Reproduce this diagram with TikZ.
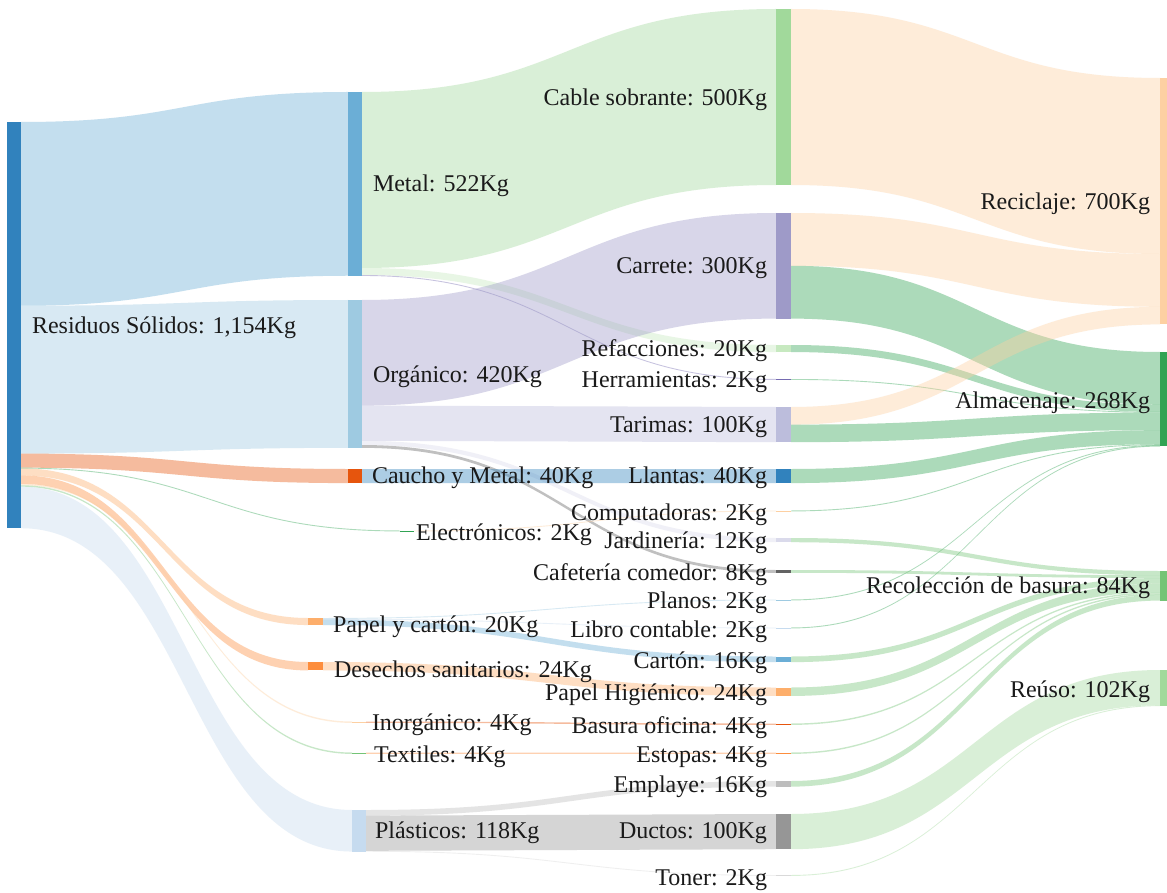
\documentclass[tikz,border=0pt]{standalone}
\usepackage{fontspec}
\setmainfont{Liberation Serif}
\usetikzlibrary{calc}
\pgfdeclarelayer{back}
\pgfdeclarelayer{flows}
\pgfsetlayers{back,flows,main}
\definecolor{cA}{HTML}{3182BD}
\definecolor{cB}{HTML}{6BAED6}
\definecolor{cC}{HTML}{9ECAE1}
\definecolor{cD}{HTML}{C6DBEF}
\definecolor{cE}{HTML}{E6550D}
\definecolor{cF}{HTML}{FD8D3C}
\definecolor{cG}{HTML}{FDAE6B}
\definecolor{cH}{HTML}{FDD0A2}
\definecolor{cI}{HTML}{31A354}
\definecolor{cJ}{HTML}{74C476}
\definecolor{cK}{HTML}{A1D99B}
\definecolor{cL}{HTML}{C7E9C0}
\definecolor{cM}{HTML}{756BB1}
\definecolor{cN}{HTML}{9E9AC8}
\definecolor{cO}{HTML}{BCBDDC}
\definecolor{cP}{HTML}{DADAEB}
\definecolor{cQ}{HTML}{636363}
\definecolor{cR}{HTML}{969696}
\definecolor{cS}{HTML}{BDBDBD}
\definecolor{cT}{HTML}{D9D9D9}
\definecolor{txt}{HTML}{1A1A1A}
\tikzset{
  sbar/.style={draw=none, inner sep=0pt, outer sep=0pt, anchor=north west},
  lab/.style={inner sep=0pt, outer sep=0pt, text=txt, font=\fontsize{24}{28}\selectfont},
  labR/.style={lab, anchor=base west},
  labL/.style={lab, anchor=base east},
  band/.style={fill opacity=0.4}
}
% node: name, x, y(top), width, kg, colour
\newcommand\snode[6]{%
  \pgfmathsetmacro\snodeH{max(#5*0.352,0.7)}%
  \node[sbar, fill=#6, minimum width=#4pt, minimum height=\snodeH pt] (#1) at (#2,#3) {};}
% flow: source, source offset (kg), target, target offset (kg), kg, colour
\newcommand\sflow[6]{%
  \pgfmathsetmacro\flowSA{#2*0.352}%
  \pgfmathsetmacro\flowTA{#4*0.352}%
  \pgfmathsetmacro\flowW{max(#5*0.352,0.9)}%
  \pgfmathsetmacro\flowSB{\flowSA+\flowW}%
  \pgfmathsetmacro\flowTB{\flowTA+\flowW}%
  \begin{pgfonlayer}{flows}
  \path ([yshift=-\flowSA pt]#1.north east) coordinate (fA)
        ([yshift=-\flowSB pt]#1.north east) coordinate (fB)
        ([yshift=-\flowTA pt]#3.north west) coordinate (gA)
        ([yshift=-\flowTB pt]#3.north west) coordinate (gB);
  \fill[band, fill=#6] let \p1=(fA), \p2=(gA), \p3=(gB), \p4=(fB) in
    (\p1) .. controls ({(\x1+\x2)/2},\y1) and ({(\x1+\x2)/2},\y2) .. (\p2)
    -- (\p3) .. controls ({(\x1+\x2)/2},\y3) and ({(\x1+\x2)/2},\y4) .. (\p4) -- cycle;
  \end{pgfonlayer}}
\begin{document}
\begin{tikzpicture}[x=1pt, y=-1pt]
\begin{pgfonlayer}{back}
\fill[white] (0,0) rectangle (1167,893);
\end{pgfonlayer}
\useasboundingbox (0,0) rectangle (1167,893);
% column 0
\snode{res}{7}{122}{14}{1154}{cA}
% column 1
\snode{metal}{348}{92}{14}{522}{cB}
\snode{org}{348}{300}{14}{420}{cC}
\snode{caucho}{348}{469}{14}{40}{cE}
\snode{elec}{400}{530.5}{14}{2}{cI}
\snode{papel}{308}{618}{15}{20}{cG}
\snode{desech}{308}{662}{15}{24}{cF}
\snode{inorg}{352}{721.5}{14}{4}{cH}
\snode{textil}{352}{752.5}{14}{4}{cJ}
\snode{plast}{352}{810}{14}{118}{cD}
% column 2
\snode{cable}{776}{9}{15}{500}{cK}
\snode{carrete}{776}{213}{15}{300}{cN}
\snode{refac}{776}{345}{15}{20}{cL}
\snode{herr}{776}{379}{15}{2}{cM}
\snode{tarimas}{776}{407}{15}{100}{cO}
\snode{llantas}{776}{469}{15}{40}{cA}
\snode{comp}{776}{510.5}{15}{2}{cH}
\snode{jard}{776}{538}{15}{12}{cP}
\snode{cafe}{776}{570}{15}{8}{cQ}
\snode{planos}{776}{599.5}{15}{2}{cC}
\snode{libro}{776}{627.5}{15}{2}{cD}
\snode{carton}{776}{656.5}{15}{16}{cB}
\snode{papelh}{776}{687.5}{15}{24}{cG}
\snode{basura}{776}{723.5}{15}{4}{cE}
\snode{estopas}{776}{752.5}{15}{4}{cF}
\snode{emplaye}{776}{781}{15}{16}{cS}
\snode{ductos}{776}{814}{15}{100}{cR}
\snode{toner}{776}{875}{15}{2}{cT}
% column 3
\snode{recic}{1160}{78}{7}{700}{cH}
\snode{almac}{1160}{352}{7}{268}{cI}
\snode{recol}{1160}{571}{7}{84}{cJ}
\snode{reuso}{1160}{670}{7}{102}{cK}
% flows from Residuos
\sflow{res}{0}{metal}{0}{522}{cB}
\sflow{res}{522}{org}{0}{420}{cC}
\sflow{res}{942}{caucho}{0}{40}{cE}
\sflow{res}{982}{elec}{0}{2}{cI}
\sflow{res}{984}{papel}{0}{20}{cG}
\sflow{res}{1004}{desech}{0}{24}{cF}
\sflow{res}{1028}{inorg}{0}{4}{cH}
\sflow{res}{1032}{textil}{0}{4}{cJ}
\sflow{res}{1036}{plast}{0}{118}{cD}
% column 1 -> 2
\sflow{metal}{0}{cable}{0}{500}{cK}
\sflow{metal}{500}{refac}{0}{20}{cL}
\sflow{metal}{520}{herr}{0}{2}{cM}
\sflow{org}{0}{carrete}{0}{300}{cN}
\sflow{org}{300}{tarimas}{0}{100}{cO}
\sflow{org}{400}{jard}{0}{12}{cP}
\sflow{org}{412}{cafe}{0}{8}{cQ}
\sflow{caucho}{0}{llantas}{0}{40}{cA}
\sflow{elec}{0}{comp}{0}{2}{cH}
\sflow{papel}{0}{planos}{0}{2}{cC}
\sflow{papel}{2}{libro}{0}{2}{cD}
\sflow{papel}{4}{carton}{0}{16}{cB}
\sflow{desech}{0}{papelh}{0}{24}{cG}
\sflow{inorg}{0}{basura}{0}{4}{cE}
\sflow{textil}{0}{estopas}{0}{4}{cF}
\sflow{plast}{0}{emplaye}{0}{16}{cS}
\sflow{plast}{16}{ductos}{0}{100}{cR}
\sflow{plast}{116}{toner}{0}{2}{cT}
% column 2 -> 3
\sflow{cable}{0}{recic}{0}{500}{cH}
\sflow{carrete}{0}{recic}{500}{150}{cH}
\sflow{carrete}{150}{almac}{0}{150}{cI}
\sflow{refac}{0}{almac}{150}{20}{cI}
\sflow{herr}{0}{almac}{170}{2}{cI}
\sflow{tarimas}{0}{recic}{650}{50}{cH}
\sflow{tarimas}{50}{almac}{172}{50}{cI}
\sflow{llantas}{0}{almac}{222}{40}{cI}
\sflow{comp}{0}{almac}{262}{2}{cI}
\sflow{planos}{0}{almac}{264}{2}{cI}
\sflow{libro}{0}{almac}{266}{2}{cI}
\sflow{jard}{0}{recol}{0}{12}{cJ}
\sflow{cafe}{0}{recol}{12}{8}{cJ}
\sflow{carton}{0}{recol}{20}{16}{cJ}
\sflow{papelh}{0}{recol}{36}{24}{cJ}
\sflow{basura}{0}{recol}{60}{4}{cJ}
\sflow{estopas}{0}{recol}{64}{4}{cJ}
\sflow{emplaye}{0}{recol}{68}{16}{cJ}
\sflow{ductos}{0}{reuso}{0}{100}{cK}
\sflow{toner}{0}{reuso}{100}{2}{cK}
% labels
\node[labR] (l-res) at (32,333) {Residuos Sólidos: 1,154Kg};
\node[labR] (l-metal) at (373,192) {Metal: 522Kg};
\node[labR] (l-org) at (373,382) {Orgánico: 420Kg};
\node[labR] (l-caucho) at (372,483) {Caucho y Metal: 40Kg};
\node[labR] (l-elec) at (416,540) {Electrónicos: 2Kg};
\node[labR] (l-papel) at (333,632) {Papel y cartón: 20Kg};
\node[labR] (l-desech) at (334,677) {Desechos sanitarios: 24Kg};
\node[labR] (l-inorg) at (372,730) {Inorgánico: 4Kg};
\node[labR] (l-textil) at (374,762) {Textiles: 4Kg};
\node[labR] (l-plast) at (375,838) {Plásticos: 118Kg};
\node[labL] (l-cable) at (767,106) {Cable sobrante: 500Kg};
\node[labL] (l-carrete) at (767,274) {Carrete: 300Kg};
\node[labL] (l-refac) at (767,356) {Refacciones: 20Kg};
\node[labL] (l-herr) at (767,387) {Herramientas: 2Kg};
\node[labL] (l-tarimas) at (767,432) {Tarimas: 100Kg};
\node[labL] (l-llantas) at (767,483) {Llantas: 40Kg};
\node[labL] (l-comp) at (767,520) {Computadoras: 2Kg};
\node[labL] (l-jard) at (767,548) {Jardinería: 12Kg};
\node[labL] (l-cafe) at (767,580) {Cafetería comedor: 8Kg};
\node[labL] (l-planos) at (767,608) {Planos: 2Kg};
\node[labL] (l-libro) at (767,637) {Libro contable: 2Kg};
\node[labL] (l-carton) at (767,668) {Cartón: 16Kg};
\node[labL] (l-papelh) at (767,700) {Papel Higiénico: 24Kg};
\node[labL] (l-basura) at (767,733) {Basura oficina: 4Kg};
\node[labL] (l-estopas) at (767,762) {Estopas: 4Kg};
\node[labL] (l-emplaye) at (767,792) {Emplaye: 16Kg};
\node[labL] (l-ductos) at (767,838) {Ductos: 100Kg};
\node[labL] (l-toner) at (767,885) {Toner: 2Kg};
\node[labL] (l-recic) at (1150,210) {Reciclaje: 700Kg};
\node[labL] (l-almac) at (1150,408) {Almacenaje: 268Kg};
\node[labL] (l-recol) at (1150,593) {Recolección de basura: 84Kg};
\node[labL] (l-reuso) at (1150,697) {Reúso: 102Kg};
\end{tikzpicture}
\end{document}
